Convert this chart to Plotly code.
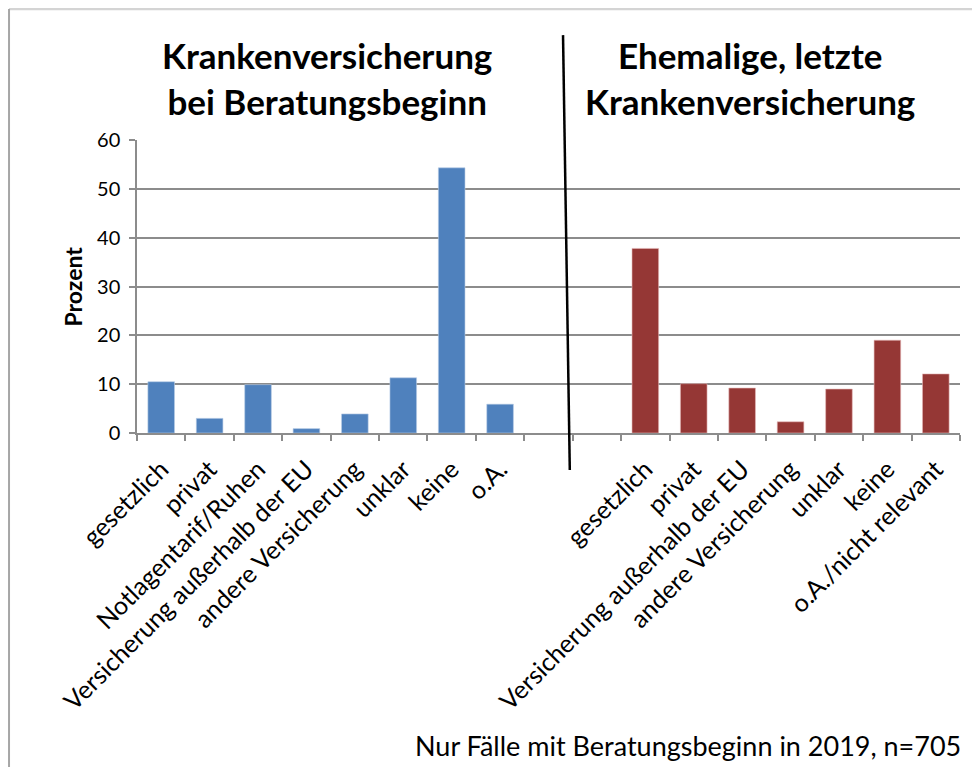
import plotly.graph_objects as go

# ---------------------------------------------------------------------------
# Daten
# ---------------------------------------------------------------------------

left_categories = [
    "gesetzlich",
    "privat",
    "Notlagentarif/Ruhen",
    "Versicherung außerhalb der EU",
    "andere Versicherung",
    "unklar",
    "keine",
    "o.A.",
]
left_values = [10.5, 3.0, 9.9, 0.9, 3.9, 11.3, 54.3, 5.9]

right_categories = [
    "gesetzlich",
    "privat",
    "Versicherung außerhalb der EU",
    "andere Versicherung",
    "unklar",
    "keine",
    "o.A./nicht relevant",
]
right_values = [37.8, 10.1, 9.2, 2.3, 9.0, 19.0, 12.1]

y_ticks = [0, 10, 20, 30, 40, 50, 60]

left_title = "Krankenversicherung<br>bei Beratungsbeginn"
right_title = "Ehemalige, letzte<br>Krankenversicherung"
y_title = "Prozent"
footnote = "Nur Fälle mit Beratungsbeginn in 2019, n=705"

# zwei leere Plätze zwischen den Gruppen
gap = 2
x_left = list(range(len(left_categories)))
x_right = [len(left_categories) + gap + i for i in range(len(right_categories))]
n_slots = len(left_categories) + gap + len(right_categories)

FONT = "Lato, 'Open Sans', sans-serif"
GRAY = "#8c8c8c"

fig = go.Figure()
fig.add_trace(
    go.Bar(
        x=x_left,
        y=left_values,
        marker=dict(color="#4F81BD", line=dict(color="#B9CDE5", width=0.6)),
        width=0.55,
        showlegend=False,
    )
)
fig.add_trace(
    go.Bar(
        x=x_right,
        y=right_values,
        marker=dict(color="#953735", line=dict(color="#E6B9B8", width=0.6)),
        width=0.55,
        showlegend=False,
    )
)

fig.update_xaxes(
    range=[-0.5, n_slots - 0.5],
    tickvals=x_left + x_right,
    ticktext=left_categories + right_categories,
    tickangle=-45,
    ticks="",
    tickfont=dict(family=FONT, size=25, color="black"),
    ticklabelstandoff=10,
    showgrid=False,
    showline=True,
    linecolor=GRAY,
    linewidth=1.5,
    zeroline=False,
    minor=dict(
        tickvals=[i - 0.5 for i in range(n_slots + 1)],
        ticks="outside",
        ticklen=6,
        tickcolor=GRAY,
        tickwidth=1.5,
        showgrid=False,
    ),
)
fig.update_yaxes(
    range=[0, 60],
    tickvals=y_ticks,
    ticks="outside",
    ticklen=6,
    tickcolor=GRAY,
    tickwidth=1.5,
    tickfont=dict(family=FONT, size=20, color="black"),
    ticklabelstandoff=5,
    showgrid=True,
    gridcolor=GRAY,
    gridwidth=1.5,
    showline=True,
    linecolor=GRAY,
    linewidth=1.5,
    zeroline=False,
)

# Trennlinie zwischen den Gruppen
fig.add_shape(
    type="line", xref="x", yref="paper",
    x0=8.30, y0=1.358, x1=8.44, y1=-0.126,
    line=dict(color="black", width=2.5),
)
# Rahmen (oben und links)
fig.add_shape(
    type="line", xref="paper", yref="paper",
    x0=-0.1555, y0=1.447, x1=1.03, y1=1.447,
    line=dict(color="#d4d4d4", width=2.5),
)
fig.add_shape(
    type="line", xref="paper", yref="paper",
    x0=-0.1555, y0=1.447, x1=-0.1555, y1=-1.2,
    line=dict(color="#a6a6a6", width=2),
)

fig.add_annotation(
    text=f"<b>{left_title}</b>", xref="paper", yref="paper",
    x=0.231, y=1.212, xanchor="center", yanchor="middle",
    showarrow=False, font=dict(family=FONT, size=35, color="black"),
)
fig.add_annotation(
    text=f"<b>{right_title}</b>", xref="paper", yref="paper",
    x=0.745, y=1.212, xanchor="center", yanchor="middle",
    showarrow=False, font=dict(family=FONT, size=35, color="black"),
)
fig.add_annotation(
    text=f"<b>{y_title}</b>", xref="paper", yref="paper",
    x=-0.0778, y=0.5, xanchor="center", yanchor="middle", textangle=-90,
    showarrow=False, font=dict(family=FONT, size=23, color="black"),
)
fig.add_annotation(
    text=footnote, xref="paper", yref="paper",
    x=1.0036, y=-1.065, xanchor="right", yanchor="middle",
    showarrow=False, font=dict(family=FONT, size=27, color="black"),
)

# die Seite hat 8px Rand, daher etwas kleiner und Ränder verschoben
fig.update_layout(
    width=972,
    height=759,
    margin=dict(l=129, r=20, t=132, b=334),
    plot_bgcolor="white",
    paper_bgcolor="white",
    bargap=0.45,
)

fig.write_html("out.html")
